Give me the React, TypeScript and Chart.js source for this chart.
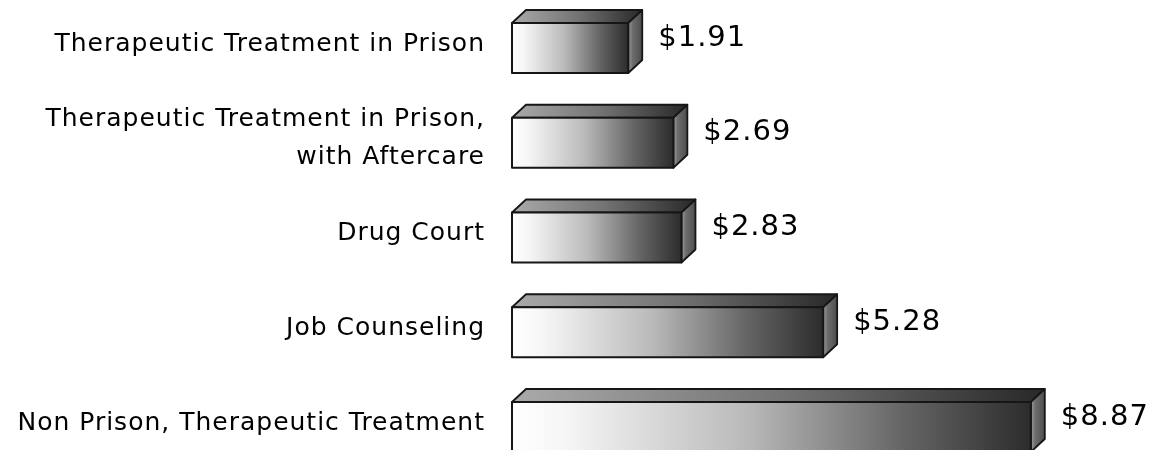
import React, { useEffect, useRef } from "react";
import { Chart, registerables } from "chart.js";

Chart.register(...registerables);

const categories: string[][] = [
  ["Therapeutic Treatment in Prison"],
  ["Therapeutic Treatment in Prison,", "with Aftercare"],
  ["Drug Court"],
  ["Job Counseling"],
  ["Non Prison, Therapeutic Treatment"],
];
const values: number[] = [1.91, 2.69, 2.83, 5.28, 8.87];
const valueLabels: string[] = ["$1.91", "$2.69", "$2.83", "$5.28", "$8.87"];

const FONT = "'DejaVu Sans', 'Open Sans', sans-serif";
const DX = 14;
const DY = 13;

const bar3dPlugin = {
  id: "bar3d",
  afterDatasetsDraw(chart: any) {
    const ctx: any = chart.ctx;
    const meta = chart.getDatasetMeta(0);
    const left = chart.chartArea.left;
    ctx.save();
    meta.data.forEach((el: any, i: number) => {
      const p = el.getProps(["x", "y", "height"], true);
      const x0 = left;
      const x1 = p.x;
      const h = p.height;
      const cy = p.y;
      const top = cy - (h + DY) / 2 + DY;
      const bot = top + h;
      const fc = (top + bot) / 2;
      ctx.lineJoin = "round";
      ctx.strokeStyle = "#161616";
      ctx.lineWidth = 1.8;

      // top face
      const gTop = ctx.createLinearGradient(x0, 0, x1 + DX, 0);
      gTop.addColorStop(0, "#aaaaaa");
      gTop.addColorStop(0.5, "#747474");
      gTop.addColorStop(1, "#282828");
      ctx.beginPath();
      ctx.moveTo(x0, top);
      ctx.lineTo(x0 + DX, top - DY);
      ctx.lineTo(x1 + DX, top - DY);
      ctx.lineTo(x1, top);
      ctx.closePath();
      ctx.fillStyle = gTop;
      ctx.fill();
      ctx.stroke();

      // side face
      const gSide = ctx.createLinearGradient(x1, 0, x1 + DX, 0);
      gSide.addColorStop(0, "#a0a0a0");
      gSide.addColorStop(0.3, "#6e6e6e");
      gSide.addColorStop(1, "#4c4c4c");
      ctx.beginPath();
      ctx.moveTo(x1, top);
      ctx.lineTo(x1 + DX, top - DY);
      ctx.lineTo(x1 + DX, bot - DY);
      ctx.lineTo(x1, bot);
      ctx.closePath();
      ctx.fillStyle = gSide;
      ctx.fill();
      ctx.stroke();

      // front face
      const gFront = ctx.createLinearGradient(x0, 0, x1, 0);
      gFront.addColorStop(0, "#ffffff");
      gFront.addColorStop(0.1, "#f6f6f6");
      gFront.addColorStop(0.45, "#bababa");
      gFront.addColorStop(0.75, "#666666");
      gFront.addColorStop(1, "#2c2c2c");
      ctx.beginPath();
      ctx.rect(x0, top, x1 - x0, h);
      ctx.fillStyle = gFront;
      ctx.fill();
      ctx.lineWidth = 2;
      ctx.stroke();

      // value label
      ctx.fillStyle = "#000000";
      ctx.font = `29px ${FONT}`;
      ctx.letterSpacing = "1px";
      ctx.textAlign = "left";
      ctx.textBaseline = "middle";
      ctx.fillText(valueLabels[i], x1 + DX + 16, fc - 10);

      // category label
      const lines = categories[i];
      const lh = 38;
      ctx.font = `25px ${FONT}`;
      ctx.letterSpacing = "1px";
      ctx.textAlign = "right";
      const startY = fc - 4 - ((lines.length - 1) * lh) / 2;
      lines.forEach((ln, k) => {
        ctx.fillText(ln, x0 - 27, startY + k * lh);
      });
      ctx.letterSpacing = "0px";
    });
    ctx.restore();
  },
};

export default function App() {
  const ref = useRef<HTMLCanvasElement | null>(null);
  useEffect(() => {
    if (!ref.current) return;
    const chart = new Chart(ref.current, {
      type: "bar",
      data: {
        labels: categories.map((c) => c.join(" ")),
        datasets: [
          {
            data: values,
            backgroundColor: "rgba(0,0,0,0)",
            borderWidth: 0,
            barThickness: 50,
          },
        ],
      },
      options: {
        indexAxis: "y",
        animation: false,
        responsive: true,
        maintainAspectRatio: false,
        layout: { padding: { top: 41.5, bottom: 29.5, left: 512, right: 5 } },
        plugins: {
          legend: { display: false },
          tooltip: { enabled: false },
        },
        scales: {
          x: {
            type: "linear",
            min: -0.1,
            max: 11,
            display: false,
          },
          y: {
            type: "category",
            offset: false,
            display: false,
          },
        },
      },
      plugins: [bar3dPlugin],
    });
    return () => chart.destroy();
  }, []);
  return (
    <div style={{ position: "fixed", left: 0, top: 0, width: 1159, height: 450, background: "#fff" }}>
      <canvas ref={ref} />
    </div>
  );
}
